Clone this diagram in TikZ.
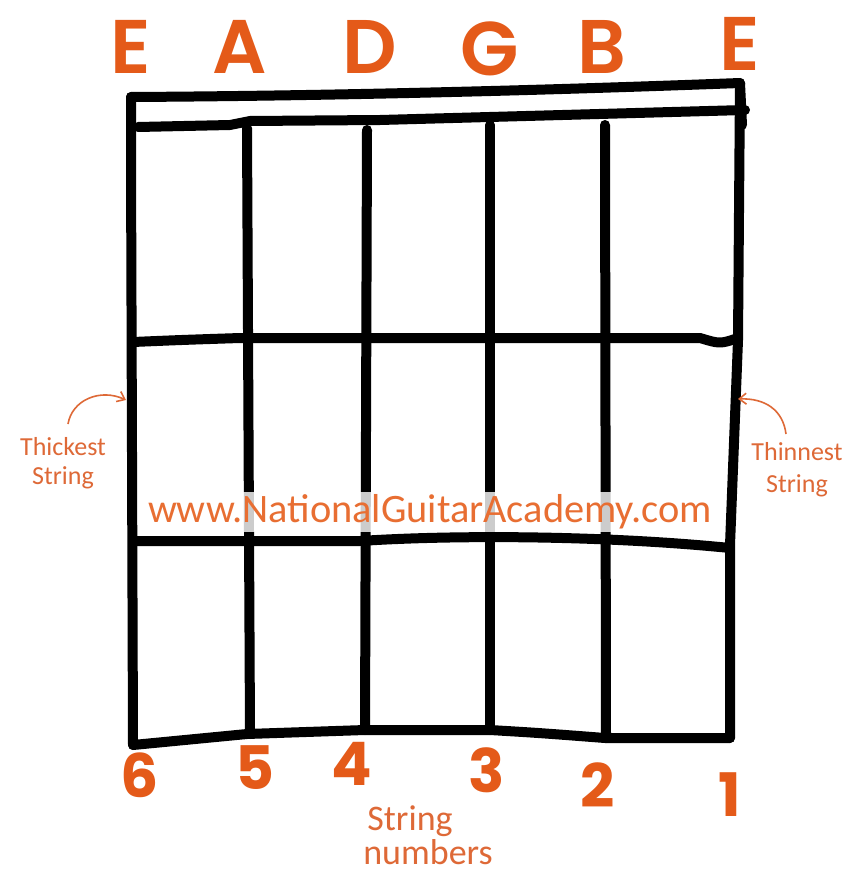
\documentclass[tikz,border=0pt]{standalone}
\usepackage{fontspec}
\setmainfont{Carlito}
\newfontfamily\boldlab{Poppins}[UprightFont=* SemiBold]
\newfontfamily\numlab{Poppins}[UprightFont=* Bold]
\usetikzlibrary{arrows.meta}
\definecolor{ngaorange}{RGB}{228,90,25}
\definecolor{handorange}{RGB}{222,105,55}
\definecolor{wmorange}{RGB}{232,110,50}
\begin{document}
\begin{tikzpicture}[x=1pt,y=-1pt,
  fb/.style={line width=10pt,line cap=round,line join=round},
  bigletter/.style={text=ngaorange,font=\boldlab\fontsize{76}{76}\selectfont,inner sep=0pt},
  stringnum/.style={text=ngaorange,font=\numlab\fontsize{60}{60}\selectfont,inner sep=0pt},
  hand/.style={text=handorange,align=center,inner sep=0pt},
  handarrow/.style={draw=handorange,line width=1.6pt,-{Straight Barb[length=7pt,width=11pt]}}]
\useasboundingbox[fill=white] (0,0) rectangle (858,872);

% string letters
\node[bigletter] (lE) at (131,47) {E};
\node[bigletter] (lA) at (240,47) {A};
\node[bigletter] (lD) at (370,47) {D};
\node[bigletter] (lG) at (490,49) {G};
\node[bigletter] (lB) at (602,47) {B};
\node[bigletter] (le) at (740,44) {E};

% fretboard
\draw[fb] (131,97) .. controls (300,96) and (500,92) .. (740,83) -- (742,125);
\draw[fb] (138,127) -- (230,125) -- (250,121) -- (380,120) -- (745,110);
\draw[fb] (131,97) -- (131,160) -- (133,745);
\draw[fb] (247,128) -- (250,734);
\draw[fb] (367,130) -- (365,730);
\draw[fb] (490,125) -- (490,730);
\draw[fb] (605,125) -- (606,738);
\draw[fb] (740,83) -- (738,340) -- (730,545) -- (730,738);
\draw[fb] (133,342) .. controls (180,340) .. (240,338) -- (700,338) .. controls (720,344) .. (738,338);
\draw[fb] (133,541) -- (360,541) .. controls (450,535) and (600,535) .. (730,548);
\draw[fb] (133,745) -- (247,734) -- (365,730) -- (490,730) .. controls (540,733) .. (605,738) -- (730,738);

% watermark
\node[text=wmorange,fill=white,fill opacity=0.8,text opacity=1,inner xsep=1pt,inner ysep=3pt] (wm) at (430,512)
  {\resizebox{564pt}{!}{\fontsize{42}{42}\selectfont www.NationalGuitarAcademy.com}};

% side labels
\node[hand,font=\fontsize{26}{29}\selectfont] (thick) at (63,463) {Thickest\\String};
\node[hand,font=\fontsize{26}{32}\selectfont] (thin) at (797,470) {Thinnest\\String};
\coordinate (tkA) at (68,424);
\coordinate (tkB) at (126,400);
\coordinate (tnA) at (786,434);
\coordinate (tnB) at (738,399);
\draw[handarrow] (tkA) .. controls (72,400) and (100,388) .. (tkB);
\draw[handarrow] (tnA) .. controls (783,410) and (765,398) .. (tnB);

% string numbers
\node[stringnum] (n6) at (140,775) {6};
\node[stringnum] (n5) at (255,768) {5};
\node[stringnum] (n4) at (352,764) {4};
\node[stringnum] (n3) at (487,770) {3};
\node[stringnum] (n2) at (598,785) {2};
\node[stringnum] (n1) at (730,795) {1};
\node[hand,font=\fontsize{36}{36}\selectfont,anchor=base] (snA) at (410,830) {String};
\node[hand,font=\fontsize{36}{36}\selectfont,anchor=base] (snB) at (428,864) {numbers};
\end{tikzpicture}
\end{document}
